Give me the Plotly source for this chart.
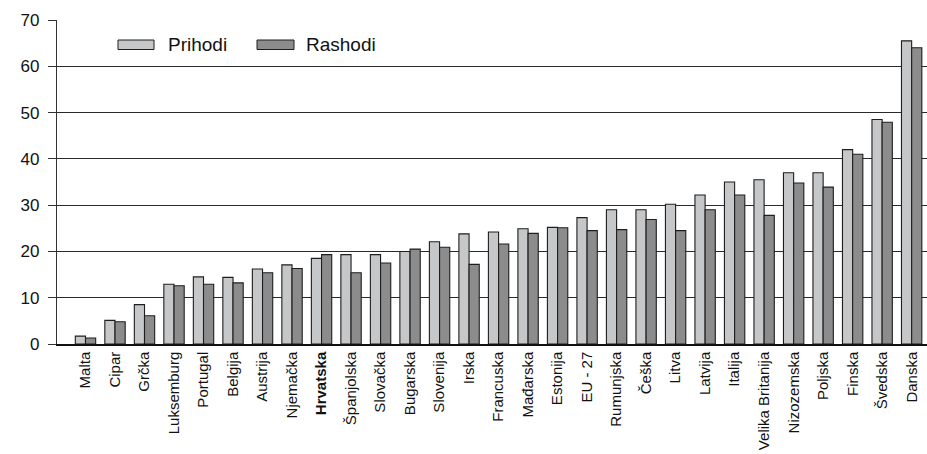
import plotly.graph_objects as go

# Countries (EU-27 average included), ordered by revenue share
countries = [
    "Malta", "Cipar", "Grčka", "Luksemburg", "Portugal", "Belgija", "Austrija",
    "Njemačka", "Hrvatska", "Španjolska", "Slovačka", "Bugarska", "Slovenija",
    "Irska", "Francuska", "Mađarska", "Estonija", "EU - 27", "Rumunjska", "Češka",
    "Litva", "Latvija", "Italija", "Velika Britanija", "Nizozemska", "Poljska",
    "Finska", "Švedska", "Danska",
]
prihodi = [1.7, 5.1, 8.5, 12.9, 14.5, 14.4, 16.2, 17.1, 18.5, 19.3, 19.3, 20.0,
           22.1, 23.8, 24.2, 24.9, 25.2, 27.3, 29.0, 29.0, 30.2, 32.2, 35.0, 35.5,
           37.0, 37.0, 42.0, 48.5, 65.5]
rashodi = [1.3, 4.8, 6.1, 12.6, 12.9, 13.2, 15.4, 16.3, 19.3, 15.4, 17.5, 20.5,
           20.9, 17.2, 21.6, 23.9, 25.1, 24.5, 24.7, 26.9, 24.5, 29.0, 32.2, 27.8,
           34.8, 33.9, 41.0, 47.9, 64.0]
series_names = ["Prihodi", "Rashodi"]
highlight = "Hrvatska"
y_ticks = [0, 10, 20, 30, 40, 50, 60, 70]

light = "#c6c7c8"
dark = "#8c8c8c"
edge = "#1e1e1e"

fig = go.Figure()
for name, vals, col in [(series_names[0], prihodi, light), (series_names[1], rashodi, dark)]:
    fig.add_trace(go.Bar(
        x=countries, y=vals, name=name,
        marker=dict(color=col, line=dict(color=edge, width=1.1)),
        showlegend=False,
    ))

tick_text = [f"<b>{c}</b>" if c == highlight else c for c in countries]

W, H = 927, 454
ml, mr, mt, mb = 57, 0, 20, 110
pw, ph = W - ml - mr, H - mt - mb

fig.update_layout(
    width=W, height=H,
    margin=dict(l=ml, r=mr, t=mt, b=mb),
    plot_bgcolor="white", paper_bgcolor="white",
    barmode="group", bargap=0.31, bargroupgap=0,
    font=dict(family="Liberation Sans, Arial, sans-serif", color="#111111"),
    xaxis=dict(
        type="category",
        range=[-0.966, 28.52],
        tickmode="array", tickvals=countries, ticktext=tick_text,
        tickangle=-90,
        tickfont=dict(family="Liberation Sans, Arial, sans-serif", size=15, color="#111111"),
        showline=True, linecolor="#111111", linewidth=1.5,
        ticks="", showgrid=False, automargin=False,
    ),
    yaxis=dict(
        range=[0, 70],
        tickvals=y_ticks,
        tickfont=dict(size=17, color="#111111"),
        ticklabelstandoff=5,
        showgrid=True, gridcolor="#2a2a2a", gridwidth=1.3,
        showline=True, linecolor="#333333", linewidth=1.3,
        ticks="outside", ticklen=8, tickcolor="#333333", tickwidth=1.3,
        zeroline=False, automargin=False,
    ),
)

# Legend drawn as wide swatches with labels
def px_x(px):
    return (px - ml) / pw

def px_y(py):
    return (H - mb - py) / ph

legend_items = [
    (series_names[0], light, 118, 154, 166),
    (series_names[1], dark, 257, 294, 304),
]
for label, col, sx0, sx1, tx in legend_items:
    fig.add_shape(
        type="rect", xref="paper", yref="paper",
        x0=px_x(sx0), x1=px_x(sx1), y0=px_y(49.5), y1=px_y(40),
        fillcolor=col, line=dict(color=edge, width=1),
    )
    fig.add_annotation(
        xref="paper", yref="paper", x=px_x(tx), y=px_y(44.5),
        text=label, showarrow=False, xanchor="left", yanchor="middle",
        font=dict(size=19, color="#111111"),
    )

fig.write_html("out.html")
